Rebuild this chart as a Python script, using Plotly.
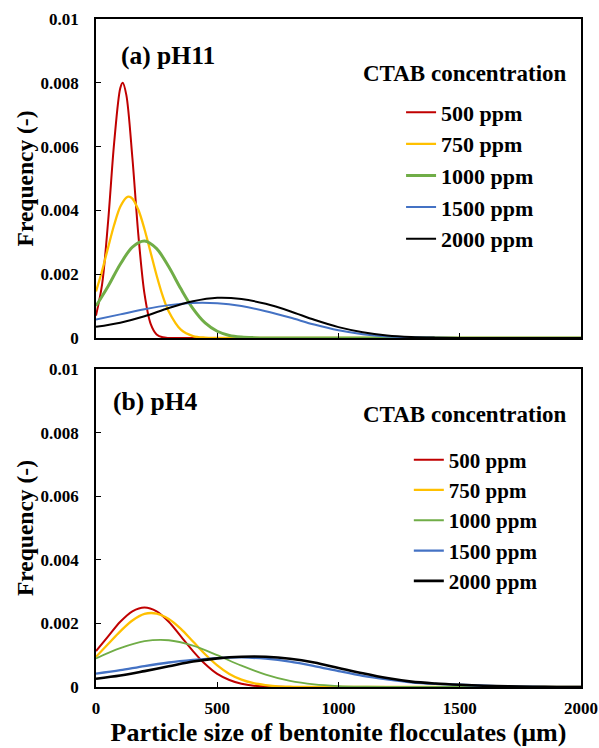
import plotly.graph_objects as go

# ---------------- data ----------------
SERIES = ["500 ppm", "750 ppm", "1000 ppm", "1500 ppm", "2000 ppm"]
COLORS = ["#C00000", "#FFC000", "#70AD47", "#4472C4", "#000000"]

# (a) pH11
a_x_500 = [0, 25, 50, 75, 100, 110, 125, 150, 175, 200, 225, 250, 275, 300, 400, 2000]
a_y_500 = [0.0007, 0.00167, 0.00366, 0.00613, 0.00783, 0.008, 0.00762, 0.00565, 0.0032,
           0.00138, 0.00045, 0.00011, 0.00002, 0, 0, 0]
a_x_750 = [0, 25, 50, 75, 100, 125, 135, 150, 175, 200, 225, 250, 275, 300, 350, 400, 450, 500, 2000]
a_y_750 = [0.00146, 0.0021, 0.00284, 0.00355, 0.00411, 0.0044, 0.00443, 0.00437, 0.00401,
           0.00341, 0.00269, 0.00196, 0.00132, 0.00083, 0.00026, 0.00006, 0.00001, 0, 0]
a_x_1000 = [0, 50, 100, 150, 200, 250, 300, 350, 400, 450, 500, 550, 600, 650, 700, 2000]
a_y_1000 = [0.001, 0.00162, 0.00231, 0.00285, 0.00304, 0.0028, 0.00223, 0.00154, 0.00092,
            0.00047, 0.00021, 0.00008, 0.00003, 0.00001, 0, 0]
a_x_1500 = [0, 100, 200, 300, 400, 500, 600, 700, 800, 900, 1000, 1100, 1200, 1300, 1400, 1500, 2000]
a_y_1500 = [0.00058, 0.00074, 0.0009, 0.00103, 0.0011, 0.00109, 0.001, 0.00084, 0.00064,
            0.00042, 0.00024, 0.00012, 0.00005, 0.00002, 0.00001, 0, 0]
a_x_2000 = [0, 100, 200, 300, 400, 500, 600, 700, 800, 900, 1000, 1100, 1200, 1300, 1400, 1500, 2000]
a_y_2000 = [0.00035, 0.00048, 0.00068, 0.00094, 0.00115, 0.00126, 0.00122, 0.00107, 0.00084,
            0.00057, 0.00034, 0.00018, 0.00008, 0.00003, 0.00001, 0, 0]

# (b) pH4
b_x_500 = [0, 50, 100, 150, 200, 250, 300, 350, 400, 450, 500, 550, 600, 650, 700, 750, 800, 2000]
b_y_500 = [0.00113, 0.00159, 0.00205, 0.00238, 0.0025, 0.00238, 0.00205, 0.00159, 0.00113,
           0.00072, 0.00041, 0.00022, 0.0001, 0.00004, 0.00002, 0.00001, 0, 0]
b_x_750 = [0, 50, 100, 150, 200, 250, 300, 350, 400, 450, 500, 550, 600, 650, 700, 750, 800, 850, 2000]
b_y_750 = [0.00095, 0.00135, 0.00175, 0.00209, 0.0023, 0.00231, 0.00214, 0.00183, 0.00143,
           0.00103, 0.00068, 0.00041, 0.00023, 0.00012, 0.00006, 0.00002, 0.00001, 0, 0]
b_x_1000 = [0, 100, 200, 300, 400, 500, 600, 700, 800, 900, 1000, 1100, 1200, 2000]
b_y_1000 = [0.0009, 0.00122, 0.00144, 0.00147, 0.0013, 0.001, 0.00067, 0.00039, 0.00019,
            0.00008, 0.00003, 0.00001, 0, 0]
b_x_1500 = [0, 100, 200, 300, 400, 500, 600, 700, 800, 900, 1000, 1100, 1200, 1300, 1400,
            1500, 1600, 1700, 1800, 1900, 2000]
b_y_1500 = [0.00042, 0.00053, 0.00066, 0.00077, 0.00085, 0.00091, 0.00093, 0.00089, 0.0008,
            0.00066, 0.0005, 0.00035, 0.00024, 0.00015, 0.0001, 0.00007, 0.00004, 0.00002,
            0.00001, 0, 0]
b_x_2000 = [0, 100, 200, 300, 400, 500, 600, 700, 800, 900, 1000, 1100, 1200, 1300, 1400,
            1500, 1600, 1700, 1800, 1900, 2000]
b_y_2000 = [0.00026, 0.00036, 0.0005, 0.00065, 0.0008, 0.0009, 0.00095, 0.00095, 0.00089,
            0.00077, 0.0006, 0.00043, 0.00028, 0.00017, 0.00011, 0.00007, 0.00004, 0.00002,
            0.00001, 0, 0]

Y_TICKS = [0, 0.002, 0.004, 0.006, 0.008, 0.01]
Y_TICKTEXT = ["0", "0.002", "0.004", "0.006", "0.008", "0.01"]
X_TICKS = [0, 500, 1000, 1500, 2000]
X_TICKTEXT = ["0", "500", "1000", "1500", "2000"]

PANEL_A = [(a_x_500, a_y_500), (a_x_750, a_y_750), (a_x_1000, a_y_1000),
           (a_x_1500, a_y_1500), (a_x_2000, a_y_2000)]
PANEL_B = [(b_x_500, b_y_500), (b_x_750, b_y_750), (b_x_1000, b_y_1000),
           (b_x_1500, b_y_1500), (b_x_2000, b_y_2000)]
WIDTH_A = [2, 2.3, 3, 2, 2]
WIDTH_B = [2, 2.3, 1.8, 2.3, 2.6]

# ---------------- figure ----------------
FONT = "Liberation Serif"
fig = go.Figure()

for (xs, ys), name, col, w in zip(PANEL_A, SERIES, COLORS, WIDTH_A):
    fig.add_trace(go.Scatter(x=xs, y=ys, name=name, mode="lines",
                             line=dict(color=col, width=w, shape="spline", smoothing=0.9),
                             xaxis="x", yaxis="y", legend="legend"))
for (xs, ys), name, col, w in zip(PANEL_B, SERIES, COLORS, WIDTH_B):
    fig.add_trace(go.Scatter(x=xs, y=ys, name=name, mode="lines",
                             line=dict(color=col, width=w, shape="spline", smoothing=0.9),
                             xaxis="x2", yaxis="y2", legend="legend2"))

tickfont = dict(family=FONT, size=17, color="black", weight="bold")
common_x = dict(range=[0, 2000], tickvals=X_TICKS, showgrid=False, zeroline=False,
                showline=True, linecolor="black", linewidth=1.6, mirror=True,
                ticks="inside", ticklen=5, tickwidth=1.3, tickcolor="black",
                tickfont=tickfont, ticklabelstandoff=5, automargin=False)
common_y = dict(range=[0, 0.01], tickvals=Y_TICKS, ticktext=Y_TICKTEXT, showgrid=False,
                zeroline=False, showline=True, linecolor="black", linewidth=1.6, mirror=True,
                ticks="inside", ticklen=5, tickwidth=1.3, tickcolor="black",
                tickfont=tickfont, ticklabelstandoff=12, automargin=False)
ytitle = dict(text="Frequency (-)", font=dict(family=FONT, size=23.5, color="black", weight="bold"),
              standoff=0)

fig.update_layout(
    width=599, height=748,
    margin=dict(l=96, r=18, t=19, b=61),
    paper_bgcolor="white", plot_bgcolor="white",
    showlegend=True,
    xaxis=dict(common_x, domain=[0, 1], anchor="y", showticklabels=False),
    yaxis=dict(common_y, domain=[0.5225, 1], anchor="x", title=ytitle),
    xaxis2=dict(common_x, domain=[0, 1], anchor="y2", ticktext=X_TICKTEXT,
                title=dict(text="Particle size of bentonite flocculates (μm)",
                           font=dict(family=FONT, size=26, color="black", weight="bold"),
                           standoff=6)),
    yaxis2=dict(common_y, domain=[0, 0.476], anchor="x2", title=ytitle),
    legend=dict(x=0.629, y=0.8915, xanchor="left", yanchor="top",
                font=dict(family=FONT, size=22, color="black", weight="bold"),
                bgcolor="rgba(0,0,0,0)", itemwidth=30),
    legend2=dict(x=0.645, y=0.3705, xanchor="left", yanchor="top",
                 font=dict(family=FONT, size=21, color="black", weight="bold"),
                 bgcolor="rgba(0,0,0,0)", itemwidth=30),
    annotations=[
        dict(text="(a) pH11", xref="paper", yref="paper", x=0.0475, y=0.946,
             xanchor="left", yanchor="middle", showarrow=False,
             font=dict(family=FONT, size=25.5, color="black", weight="bold")),
        dict(text="(b) pH4", xref="paper", yref="paper", x=0.031, y=0.4275,
             xanchor="left", yanchor="middle", showarrow=False,
             font=dict(family=FONT, size=25.5, color="black", weight="bold")),
        dict(text="CTAB concentration", xref="paper", yref="paper", x=0.547, y=0.9177,
             xanchor="left", yanchor="middle", showarrow=False,
             font=dict(family=FONT, size=23, color="black", weight="bold")),
        dict(text="CTAB concentration", xref="paper", yref="paper", x=0.547, y=0.4072,
             xanchor="left", yanchor="middle", showarrow=False,
             font=dict(family=FONT, size=23, color="black", weight="bold")),
    ],
)

fig.write_html("out.html", config={"displayModeBar": False},
               post_script="document.body.style.margin='0';")
